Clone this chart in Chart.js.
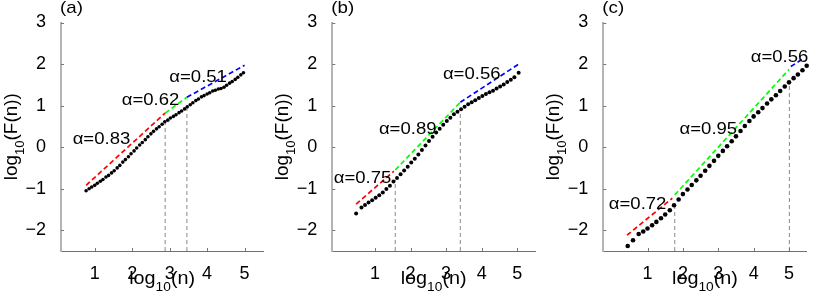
<!DOCTYPE html>
<html>
<head>
<meta charset="utf-8">
<script src="https://cdn.jsdelivr.net/npm/chart.js@4.4.1/dist/chart.umd.min.js"></script>
<style>
  html, body { margin: 0; padding: 0; background: #fff; }
  #wrap { position: relative; width: 818px; height: 298px; overflow: hidden; background: #fff; }
  canvas { position: absolute; top: 0; }
</style>
</head>
<body>
<div id="wrap">
  <canvas id="c0" width="271" height="298" style="left:0px"></canvas>
  <canvas id="c1" width="271" height="298" style="left:271px"></canvas>
  <canvas id="c2" width="276" height="298" style="left:542px"></canvas>
</div>
<script>
// ---------------- data ----------------
const xTickValues = [1, 2, 3, 4, 5];
const yTickValues = [-2, -1, 0, 1, 2, 3];
const panelNames = ['(a)', '(b)', '(c)'];

// panel (a)
const logN_a = [0.77,0.85,0.92,1.00,1.07,1.15,1.22,1.30,1.37,1.45,1.52,1.60,1.67,1.75,1.82,1.90,1.97,2.05,2.12,2.20,2.27,2.35,2.42,2.50,2.57,2.65,2.72,2.80,2.87,2.95,3.02,3.10,3.17,3.25,3.32,3.40,3.47,3.55,3.62,3.70,3.77,3.85,3.92,4.00,4.07,4.15,4.22,4.30,4.37,4.45,4.52,4.60,4.67,4.75,4.82,4.90,4.97];
const logF_a = [-1.05,-1.00,-0.96,-0.92,-0.87,-0.82,-0.78,-0.72,-0.68,-0.62,-0.57,-0.50,-0.44,-0.36,-0.30,-0.23,-0.16,-0.09,-0.02,0.05,0.11,0.18,0.25,0.32,0.38,0.44,0.49,0.55,0.61,0.65,0.70,0.74,0.78,0.83,0.87,0.92,0.97,1.02,1.07,1.12,1.16,1.21,1.24,1.28,1.31,1.35,1.37,1.40,1.41,1.44,1.49,1.54,1.58,1.63,1.68,1.74,1.79];
const fitX_a = [[0.77, 2.88], [2.88, 3.46], [3.46, 5.00]];
const fitY_a = [[-0.92, 0.82], [0.82, 1.20], [1.20, 1.97]];
const alpha_a = ['0.83', '0.62', '0.51'];
const cross_a = [2.88, 3.46];
const crossF_a = [0.62, 0.96];

// panel (b)
const logN_b = [0.47,0.62,0.72,0.82,0.92,1.02,1.12,1.22,1.32,1.42,1.52,1.62,1.72,1.82,1.92,2.02,2.12,2.22,2.32,2.42,2.52,2.62,2.72,2.82,2.92,3.02,3.12,3.22,3.32,3.42,3.52,3.62,3.72,3.82,3.92,4.02,4.12,4.22,4.32,4.42,4.52,4.62,4.72,4.82,4.92,5.04];
const logF_b = [-1.60,-1.45,-1.39,-1.33,-1.28,-1.22,-1.16,-1.09,-1.01,-0.93,-0.83,-0.74,-0.65,-0.56,-0.47,-0.37,-0.28,-0.18,-0.07,0.04,0.15,0.25,0.35,0.44,0.54,0.63,0.71,0.79,0.85,0.91,0.97,1.03,1.08,1.13,1.18,1.23,1.28,1.32,1.36,1.41,1.46,1.51,1.57,1.62,1.68,1.79];
const fitX_b = [[0.47, 1.53], [1.57, 3.40], [3.40, 5.08]];
const fitY_b = [[-1.37, -0.58], [-0.55, 1.08], [1.08, 2.02]];
const alpha_b = ['0.75', '0.89', '0.56'];
const cross_b = [1.57, 3.40];
const crossF_b = [-0.79, 0.90];

// panel (c)
const logN_c = [0.44,0.59,0.75,0.88,1.00,1.13,1.25,1.38,1.50,1.63,1.75,1.88,2.00,2.13,2.25,2.38,2.50,2.63,2.75,2.88,3.00,3.13,3.25,3.38,3.50,3.63,3.75,3.88,4.00,4.13,4.25,4.38,4.50,4.63,4.75,4.88,5.00,5.13,5.25,5.38,5.50];
const logF_c = [-2.38,-2.24,-2.09,-2.03,-1.96,-1.88,-1.80,-1.71,-1.62,-1.52,-1.40,-1.26,-1.13,-1.02,-0.91,-0.80,-0.69,-0.57,-0.45,-0.33,-0.21,-0.09,0.02,0.14,0.26,0.39,0.51,0.63,0.74,0.84,0.94,1.05,1.15,1.25,1.35,1.46,1.56,1.66,1.75,1.85,1.96];
const fitX_c = [[0.42, 1.70], [1.77, 5.00], [5.05, 5.42]];
const fitY_c = [[-2.12, -1.23], [-1.15, 1.87], [1.94, 2.14]];
const alpha_c = ['0.72', '0.95', '0.56'];
const cross_c = [1.77, 5.01];
const crossF_c = [-1.40, 1.56];

// ---------------- layout / style ----------------
const Y_MIN = -2.5, Y_MAX = 3, X_MAX = 5.5;
const FONT = '"Liberation Sans", Arial, Helvetica, sans-serif';
const FIT_COLORS = ['#ff0000', '#00ff00', '#0000ff'];
const panels = [
  { id: 'c0', name: panelNames[0], xMin: 0.1, yW: 61, padR: 7.7, r: 1.8,
    x: logN_a, y: logF_a, fx: fitX_a, fy: fitY_a, al: alpha_a, cx: cross_a, cf: crossF_a,
    lab: [[1.18, 0.21], [2.49, 1.16], [3.76, 1.72]] },
  { id: 'c1', name: panelNames[1], xMin: -0.2, yW: 61.3, padR: 7, r: 2.0,
    x: logN_b, y: logF_b, fx: fitX_b, fy: fitY_b, al: alpha_b, cx: cross_b, cf: crossF_b,
    lab: [[0.65, -0.73], [1.92, 0.45], [3.72, 1.78]] },
  { id: 'c2', name: panelNames[2], xMin: -0.25, yW: 61.3, padR: 11.3, r: 2.3,
    x: logN_c, y: logF_c, fx: fitX_c, fy: fitY_c, al: alpha_c, cx: cross_c, cf: crossF_c,
    lab: [[0.72, -1.35], [2.72, 0.47], [4.73, 2.20]] }
];

function fmt(v) { return v < 0 ? '\u2212' + Math.abs(v) : String(v); }

function richText(ctx, parts, ox, oy, angle, sx, align) {
  ctx.save();
  ctx.translate(ox, oy);
  if (angle) ctx.rotate(angle);
  ctx.scale(sx, 1);
  let w = 0;
  parts.forEach(p => { ctx.font = p.size + 'px ' + FONT; p.w = ctx.measureText(p.t).width; w += p.w; });
  let x = align === 'left' ? 0 : -w / 2;
  ctx.textBaseline = 'alphabetic';
  ctx.textAlign = 'left';
  ctx.fillStyle = '#000';
  parts.forEach(p => { ctx.font = p.size + 'px ' + FONT; ctx.fillText(p.t, x, p.dy || 0); x += p.w; });
  ctx.restore();
}

const decorPlugin = {
  id: 'decor',
  afterDraw(chart) {
    const ctx = chart.ctx;
    const a = chart.chartArea;
    const xs = chart.scales.x, ys = chart.scales.y;
    const p = chart.options.plugins.decor.panel;
    ctx.save();
    // inner tick marks
    ctx.strokeStyle = '#777';
    ctx.lineWidth = 1;
    ctx.beginPath();
    xTickValues.forEach(v => {
      const px = Math.round(xs.getPixelForValue(v)) + 0.5;
      ctx.moveTo(px, a.bottom); ctx.lineTo(px, a.bottom - 3);
    });
    yTickValues.forEach(v => {
      const py = Math.round(ys.getPixelForValue(v)) + 0.5;
      ctx.moveTo(a.left, py); ctx.lineTo(a.left + 3, py);
    });
    ctx.stroke();
    // alpha labels
    p.al.forEach((txt, i) => {
      const px = xs.getPixelForValue(p.lab[i][0]);
      const py = ys.getPixelForValue(p.lab[i][1]);
      richText(ctx, [{ t: '\u03b1=' + txt, size: 17 }], px, py + 6, 0, 1.09, 'center');
    });
    // x title
    richText(ctx, [{ t: 'log', size: 18 }, { t: '10', size: 12.5, dy: 6.5 }, { t: '(n)', size: 18 }],
      (a.left + a.right) / 2, 284, 0, 1.1, 'center');
    // y title
    richText(ctx, [{ t: 'log', size: 18 }, { t: '10', size: 12.5, dy: 6.5 }, { t: '(F(n))', size: 18 }],
      a.left - 44, (a.top + a.bottom) / 2, -Math.PI / 2, 1.05, 'center');
    // panel letter
    richText(ctx, [{ t: p.name, size: 17 }], a.left - 1, 12.5, 0, 1.1, 'left');
    ctx.restore();
  }
};

function makeChart(p) {
  const datasets = [];
  datasets.push({
    data: p.x.map((x, k) => ({ x: x, y: p.y[k] })),
    pointRadius: p.r, pointBackgroundColor: '#000', pointBorderWidth: 0,
    showLine: false, clip: false
  });
  p.fx.forEach((seg, i) => {
    datasets.push({
      data: [{ x: seg[0], y: p.fy[i][0] }, { x: seg[1], y: p.fy[i][1] }],
      showLine: true, borderColor: FIT_COLORS[i], borderWidth: 1.7, borderDash: [5, 3],
      pointRadius: 0, fill: false, clip: false
    });
  });
  p.cx.forEach((cx, i) => {
    datasets.push({
      data: [{ x: cx, y: Y_MIN }, { x: cx, y: p.cf[i] }],
      showLine: true, borderColor: '#888', borderWidth: 1, borderDash: [4, 3],
      pointRadius: 0, fill: false
    });
  });
  const tickFont = { family: FONT, size: 18 };
  new Chart(document.getElementById(p.id), {
    type: 'scatter',
    data: { datasets: datasets },
    plugins: [decorPlugin],
    options: {
      responsive: false,
      animation: false,
      events: [],
      layout: { padding: { left: 0, right: p.padR, top: 22.5, bottom: 0 } },
      plugins: { legend: { display: false }, tooltip: { enabled: false }, decor: { panel: p } },
      scales: {
        x: {
          type: 'linear', min: p.xMin, max: X_MAX,
          afterBuildTicks: s => { s.ticks = xTickValues.map(v => ({ value: v })); },
          afterFit: s => { s.height = 47; },
          grid: { display: false },
          border: { display: true, color: '#707070', width: 1 },
          ticks: { font: tickFont, color: '#000', padding: 4, maxRotation: 0, autoSkip: false, callback: v => fmt(v) }
        },
        y: {
          type: 'linear', min: Y_MIN, max: Y_MAX,
          afterBuildTicks: s => { s.ticks = yTickValues.map(v => ({ value: v })); },
          afterFit: s => { s.width = p.yW; },
          grid: { display: false },
          border: { display: true, color: '#b4b4b4', width: 2 },
          ticks: { font: tickFont, color: '#000', padding: 7, autoSkip: false, callback: v => fmt(v) }
        }
      }
    }
  });
}

panels.forEach(makeChart);
</script>
</body>
</html>
